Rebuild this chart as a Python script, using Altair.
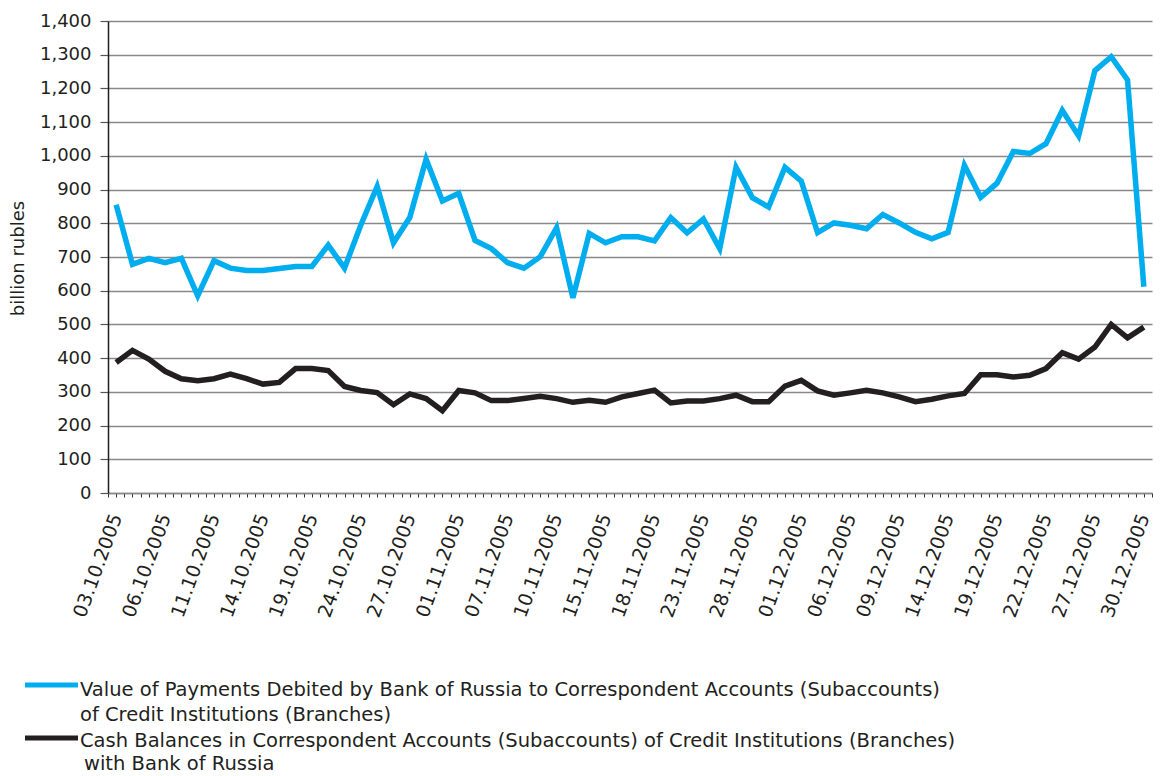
import altair as alt
import pandas as pd

dates = [
    "03.10.2005", "04.10.2005", "05.10.2005", "06.10.2005", "07.10.2005", "10.10.2005", "11.10.2005",
    "12.10.2005", "13.10.2005", "14.10.2005", "17.10.2005", "18.10.2005", "19.10.2005", "20.10.2005",
    "21.10.2005", "24.10.2005", "25.10.2005", "26.10.2005", "27.10.2005", "28.10.2005", "31.10.2005",
    "01.11.2005", "02.11.2005", "03.11.2005", "07.11.2005", "08.11.2005", "09.11.2005", "10.11.2005",
    "11.11.2005", "14.11.2005", "15.11.2005", "16.11.2005", "17.11.2005", "18.11.2005", "21.11.2005",
    "22.11.2005", "23.11.2005", "24.11.2005", "25.11.2005", "28.11.2005", "29.11.2005", "30.11.2005",
    "01.12.2005", "02.12.2005", "05.12.2005", "06.12.2005", "07.12.2005", "08.12.2005", "09.12.2005",
    "12.12.2005", "13.12.2005", "14.12.2005", "15.12.2005", "16.12.2005", "19.12.2005", "20.12.2005",
    "21.12.2005", "22.12.2005", "23.12.2005", "26.12.2005", "27.12.2005", "28.12.2005", "29.12.2005",
    "30.12.2005",
]

payments = [
    855, 678, 696, 683, 696, 585, 689, 667, 660, 660,
    666, 672, 672, 735, 667, 795, 909, 742, 817, 990,
    866, 889, 749, 725, 683, 667, 701, 787, 579, 770,
    742, 760, 760, 748, 817, 772, 813, 725, 966, 876,
    848, 966, 925, 772, 801, 794, 784, 826, 801, 773,
    754, 773, 972, 877, 919, 1013, 1007, 1036, 1135, 1059,
    1253, 1294, 1225, 612,
]

balances = [
    387, 423, 397, 361, 339, 333, 339, 353, 339, 323,
    328, 369, 369, 363, 316, 304, 298, 262, 294, 280,
    244, 304, 297, 274, 274, 280, 287, 280, 269, 275,
    269, 285, 295, 305, 267, 273, 273, 280, 290, 271,
    271, 317, 334, 303, 290, 297, 305, 297, 285, 271,
    278, 288, 295, 351, 351, 344, 349, 369, 416, 397,
    433, 500, 460, 492,
]

series_names = ["Payments debited", "Cash balances"]
series_colors = ["#00AEEF", "#231F20"]
legend_lines = [
    ["Value of Payments Debited  by Bank of Russia to Correspondent Accounts (Subaccounts)",
     "of Credit Institutions (Branches)"],
    ["Cash Balances in Correspondent Accounts (Subaccounts) of Credit Institutions (Branches)",
     "with Bank of Russia"],
]
y_ticks = list(range(0, 1401, 100))

FONT = "DejaVu Sans"

rows = []
for name, vals in zip(series_names, [payments, balances]):
    for i, v in enumerate(vals):
        rows.append({"i": i, "date": dates[i], "value": v, "series": name})
df = pd.DataFrame(rows)

n = len(dates)
x_tick_values = [k / 2 for k in range(-1, 2 * n)]
label_array = "[" + ",".join("'" + d + "'" for d in dates) + "]"
label_expr = f"(datum.value % 3 == 0) ? {label_array}[datum.value] : ''"

lines = alt.Chart(df).mark_line(strokeWidth=5.5, strokeJoin="miter").encode(
    x=alt.X(
        "i:Q",
        scale=alt.Scale(domain=[-0.5, n - 0.5], nice=False, zero=False),
        axis=alt.Axis(
            values=x_tick_values,
            labelExpr=label_expr,
            labelAngle=290,
            labelAlign="right",
            labelBaseline="middle",
            labelFont=FONT,
            labelFontSize=19,
            labelColor="#231F20",
            labelPadding=17,
            labelOverlap=False,
            labelFlush=False,
            labelBound=False,
            tickSize=4,
            tickColor="#333333",
            tickWidth=1,
            grid=False,
            domainColor="#888888",
            domainWidth=1.5,
            title=None,
        ),
    ),
    y=alt.Y(
        "value:Q",
        scale=alt.Scale(domain=[0, 1400], nice=False),
        axis=alt.Axis(
            values=y_ticks,
            format=",.0f",
            labelFont=FONT,
            labelFontSize=18,
            labelColor="#231F20",
            labelPadding=9,
            tickSize=8,
            tickColor="#555555",
            tickWidth=1.2,
            domainColor="#231F20",
            domainWidth=1.5,
            grid=True,
            gridColor="#888888",
            gridWidth=1.5,
            title="billion rubles",
            titleFont=FONT,
            titleFontSize=18,
            titleFontWeight="normal",
            titleColor="#231F20",
            titleAngle=270,
            titleX=-90,
            titleY=237,
            titleAlign="center",
            titleBaseline="middle",
        ),
    ),
    color=alt.Color(
        "series:N",
        scale=alt.Scale(domain=series_names, range=series_colors),
        legend=None,
    ),
    order=alt.Order("i:Q"),
)

one = pd.DataFrame({"k": [0]})
legend_layers = []
# positions relative to plot origin (legend styling only)
legend_rule_y = [664, 717]
legend_text_y = [[669, 694], [720, 743]]
legend_text_x = [[-28, -28], [-28, -24]]
for c, ry, tys, txs, txts in zip(series_colors, legend_rule_y, legend_text_y, legend_text_x, legend_lines):
    legend_layers.append(
        alt.Chart(one).mark_rule(strokeWidth=5, color=c).encode(
            x=alt.value(-83), x2=alt.value(-30), y=alt.value(ry)
        )
    )
    for tx, ty, t in zip(txs, tys, txts):
        legend_layers.append(
            alt.Chart(one).mark_text(
                align="left", baseline="middle", font=FONT, fontSize=19.5, color="#231F20"
            ).encode(x=alt.value(tx), y=alt.value(ty), text=alt.value(t))
        )

chart = alt.layer(lines, *legend_layers).properties(
    width=1044,
    height=472,
    padding={"left": 100, "top": 13, "right": 2, "bottom": 283},
    autosize=alt.AutoSizeParams(type="none"),
    background="white",
).configure_view(stroke=None)

chart.save("out.html", embed_options={"renderer": "svg", "actions": False})
